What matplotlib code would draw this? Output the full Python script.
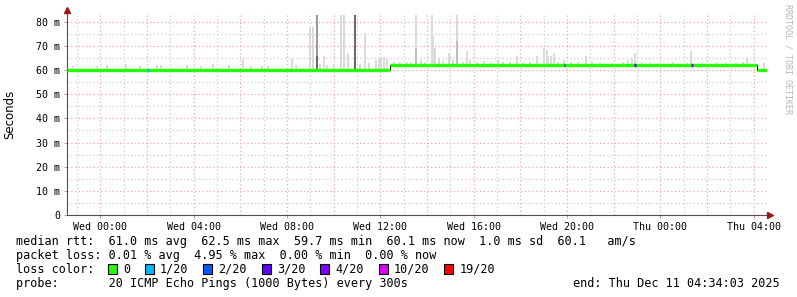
import matplotlib
matplotlib.use('Agg')
import matplotlib.pyplot as plt
from matplotlib.patches import Rectangle
import numpy as np

W, H = 797, 297

# time axis in hours relative to Wed 00:00, graph ends Thu 04:34:03
t_start, t_end = -1.4325, 28.5675
step_h = 5 / 60.  # one 300s step

x_label_hours = [0, 4, 8, 12, 16, 20, 24, 28]
x_labels = ['Wed 00:00', 'Wed 04:00', 'Wed 08:00', 'Wed 12:00',
            'Wed 16:00', 'Wed 20:00', 'Thu 00:00', 'Thu 04:00']
y_ticks = [0, 10, 20, 30, 40, 50, 60, 70, 80]
y_labels = ['0', '10 m', '20 m', '30 m', '40 m', '50 m', '60 m', '70 m', '80 m']

# median rtt (ms), stepwise
median_t = [-1.4325, 12.42, 28.12, 28.5675]
median_ms = [59.9, 61.9, 59.9, 59.9]

# smoke spikes: time (h), top of smoke (ms), pings at that level
spike_t = [-1.16, -0.13, 0.30, 1.11, 1.71, 2.44, 2.61, 3.69, 4.29, 4.84, 5.49,
           6.09, 6.47, 6.94, 7.20, 8.19, 8.40, 9.00, 9.09, 9.30, 9.30, 9.43,
           9.60, 9.73, 9.99, 10.29, 10.46, 10.63, 10.89, 11.14, 11.36, 11.53,
           11.79, 11.92, 12.04, 12.17, 12.30,
           12.60, 12.86, 13.12, 13.33, 13.54, 13.54, 13.72, 13.93, 14.19, 14.27,
           14.36, 14.49, 14.70, 14.96, 15.09, 15.30, 15.30, 15.52, 15.69, 15.86,
           16.16, 16.42, 16.72, 17.02, 17.27, 17.57, 17.87, 18.13, 18.39, 18.69,
           19.03, 19.12, 19.20, 19.29, 19.42, 19.63, 19.85, 20.15, 20.45, 20.79,
           21.05, 21.43, 21.95, 22.38, 22.63, 22.80, 22.89, 23.19, 23.57, 24.00,
           24.52, 25.16, 25.29, 25.80, 26.40, 26.79, 27.22, 27.56, 27.69, 28.46]
spike_ms = [61.8, 61.6, 62.2, 62.3, 61.5, 62.2, 62.2, 62.0, 61.5, 62.5, 62.0,
            64.7, 61.5, 61.8, 61.5, 64.7, 62.0, 78.0, 78.0, 82.8, 66.0, 62.5,
            66.0, 62.0, 62.5, 82.8, 82.8, 67.0, 82.8, 62.5, 75.5, 63.0,
            64.0, 65.0, 65.3, 65.3, 64.5,
            63.5, 63.5, 63.3, 63.5, 82.8, 69.0, 64.0, 63.2, 82.8, 74.0,
            69.0, 64.5, 63.8, 67.0, 64.0, 82.8, 72.0, 63.5, 68.0, 64.0,
            63.5, 63.8, 63.0, 64.0, 63.5, 63.2, 66.0, 63.2, 63.5, 66.0,
            69.0, 68.5, 66.0, 66.0, 67.0, 63.5, 64.0, 63.5, 63.5, 66.0,
            63.5, 63.0, 63.0, 63.5, 64.0, 65.0, 67.0, 63.0, 63.0, 63.0,
            63.5, 63.0, 68.0, 62.8, 63.0, 63.0, 63.0, 63.5, 65.5, 63.0]
spike_n = [1, 1, 1, 1, 1, 1, 1, 1, 1, 1, 1,
           1, 1, 1, 1, 1, 1, 1, 1, 3, 4, 1,
           1, 1, 1, 1, 1, 1, 4, 1, 1, 1,
           1, 1, 1, 1, 1,
           1, 1, 1, 1, 1, 2, 1, 1, 1, 1,
           1, 1, 1, 1, 1, 1, 2, 1, 1, 1,
           1, 1, 1, 1, 1, 1, 1, 1, 1, 1,
           1, 1, 1, 1, 1, 1, 1, 1, 1, 1,
           1, 1, 1, 1, 1, 1, 1, 1, 1, 1,
           1, 1, 1, 1, 1, 1, 1, 1, 1, 1]

# samples with packet loss (time h, index into loss colours)
loss_t = [2.04, 19.89, 22.93, 25.37]
loss_idx = [1, 3, 3, 4]

loss_labels = ['0', '1/20', '2/20', '3/20', '4/20', '10/20', '19/20']
loss_colors = ['#26ff00', '#00b8ff', '#0059ff', '#5e00ff', '#7e00ff', '#dd00ff', '#ff0000']

legend_lines = [
    'median rtt:  61.0 ms avg  62.5 ms max  59.7 ms min  60.1 ms now  1.0 ms sd  60.1   am/s',
    'packet loss: 0.01 % avg  4.95 % max  0.00 % min  0.00 % now',
    'loss color:',
    'probe:       20 ICMP Echo Pings (1000 Bytes) every 300s',
]
end_text = 'end: Thu Dec 11 04:34:03 2025'

smoke_shades = {1: '#dadada', 2: '#bdbdbd', 3: '#9a9a9a', 4: '#6a6a6a'}
mono = 'DejaVu Sans Mono'


def median_at(t):
    i = np.searchsorted(median_t, t, side='right') - 1
    return median_ms[max(0, min(i, len(median_ms) - 1))]


fig = plt.figure(figsize=(W / 100, H / 100), dpi=100)
fig.patch.set_facecolor('white')
ax = fig.add_axes([67 / W, 1 - 215 / H, 700 / W, 202 / H])
ymax = 202 / 2.416
ax.set_xlim(t_start, t_end)
ax.set_ylim(0, ymax)

# grid, rrdtool style
for h in np.arange(-1, 29, 1):
    major = (h % 2 == 0)
    ax.axvline(h, color='#f0a8a8' if major else '#cccccc', lw=0.9,
               ls=(0, (1, 2)), zorder=0)
for v in np.arange(5, 85, 5):
    major = (v % 10 == 0)
    ax.axhline(v, color='#f0a8a8' if major else '#cccccc', lw=0.9,
               ls=(0, (1, 2)), zorder=0)

# smoke
bases = [median_at(t) - 0.4 for t in spike_t]
heights = [top - b for top, b in zip(spike_ms, bases)]
ax.bar(spike_t, heights, bottom=bases, width=step_h * 1.02,
       color=[smoke_shades[n] for n in spike_n], linewidth=0, zorder=1)

# median line
ax.step(median_t, median_ms, where='post', color='black', lw=0.8, zorder=2)
ax.hlines(median_ms[:-1], median_t[:-1], median_t[1:], color=loss_colors[0],
          lw=2.4, capstyle='butt', zorder=3)
for t, i in zip(loss_t, loss_idx):
    ax.hlines(median_at(t), t - step_h / 2, t + step_h / 2, color=loss_colors[i],
              lw=2.4, capstyle='butt', zorder=4)

# axes
for s in ['top', 'right']:
    ax.spines[s].set_visible(False)
for s in ['left', 'bottom']:
    ax.spines[s].set_color('#505050')
    ax.spines[s].set_linewidth(0.8)
ax.plot([t_start], [ymax + 1.2], marker='^', color='#a01818', ms=4,
        clip_on=False, zorder=5)
ax.plot([t_end + 0.15], [0], marker='>', color='#a01818', ms=4,
        clip_on=False, zorder=5)

ax.set_xticks(x_label_hours)
ax.set_xticklabels(x_labels, family=mono, fontsize=7.2)
ax.set_yticks(y_ticks)
ax.set_yticklabels(y_labels, family=mono, fontsize=7.2)
ax.tick_params(axis='both', length=2, width=0.6, color='#d08080', pad=3)
ax.set_ylabel('Seconds', fontsize=8.5)
ax.yaxis.set_label_coords(-51 / 700, 0.5)

fig.text(788 / W, 1 - 4 / H, 'RRDTOOL / TOBI OETIKER', rotation=270,
         ha='center', va='top', fontsize=6, color='#b4b4b4', family=mono)

# legend block
rows_y = [241.5, 255.5, 269.5, 283.5]
for txt, y in zip(legend_lines, rows_y):
    fig.text(16 / W, 1 - y / H, txt, ha='left', va='center', family=mono, fontsize=8.5)
fig.text(780 / W, 1 - rows_y[3] / H, end_text, ha='right', va='center',
         family=mono, fontsize=8.5)

char_w = 7.1
sx = 108
for lab, col in zip(loss_labels, loss_colors):
    fig.patches.append(Rectangle((sx / W, 1 - 274 / H), 9 / W, 10 / H,
                                 transform=fig.transFigure, facecolor=col,
                                 edgecolor='black', linewidth=0.8))
    fig.text((sx + 15) / W, 1 - rows_y[2] / H, lab, ha='left', va='center',
             family=mono, fontsize=8.5)
    sx = sx + 15 + len(lab) * char_w + 15

fig.savefig('out.png', dpi=100, facecolor='white')
